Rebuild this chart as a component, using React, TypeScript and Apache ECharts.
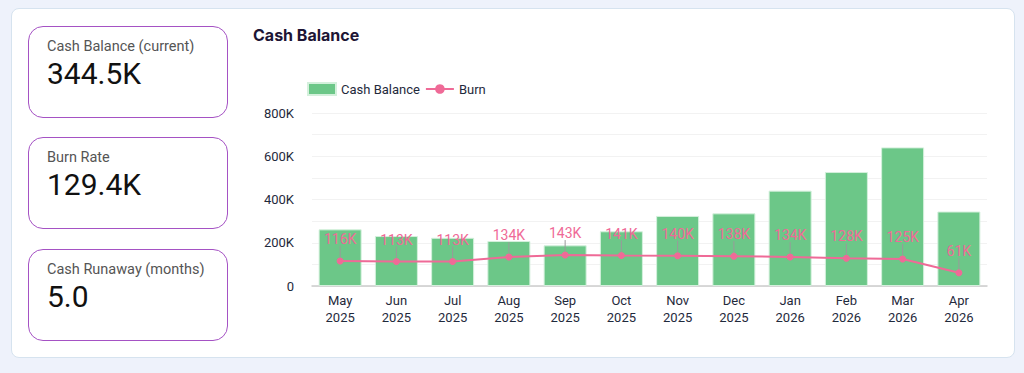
import React, { useEffect, useRef } from "react";
import * as echarts from "echarts";

const months = ["May\n2025", "Jun\n2025", "Jul\n2025", "Aug\n2025", "Sep\n2025", "Oct\n2025", "Nov\n2025", "Dec\n2025", "Jan\n2026", "Feb\n2026", "Mar\n2026", "Apr\n2026"];
const cashBalance = [262000, 231000, 223000, 208000, 188000, 253000, 324000, 336000, 441000, 527000, 641000, 344500];
const burn = [116000, 113000, 113000, 134000, 143000, 141000, 140000, 138000, 134000, 128000, 125000, 61000];
const kpis = [
  { label: "Cash Balance (current)", value: "344.5K" },
  { label: "Burn Rate", value: "129.4K" },
  { label: "Cash Runaway (months)", value: "5.0" },
];

const fmtK = (v: number) => (v === 0 ? "0" : Math.round(v / 1000) + "K");

export default function App() {
  const ref = useRef<HTMLDivElement>(null);
  useEffect(() => {
    if (!ref.current) return;
    const chart = echarts.init(ref.current, undefined, { renderer: "svg" });
    chart.setOption({
      animation: false,
      textStyle: { fontFamily: "Roboto" },
      title: {
        text: "Cash Balance",
        left: 248,
        top: 22,
        textStyle: { fontFamily: "Inter", fontSize: 16, fontWeight: 700, color: "#1e1535" },
      },
      legend: {
        left: 302,
        top: 77,
        itemWidth: 28,
        itemHeight: 12,
        itemGap: 5,
        textStyle: { fontSize: 13, color: "#1f2a3c", fontFamily: "Roboto" },
        data: [
          { name: "Cash Balance", icon: "rect" },
          { name: "Burn" },
        ],
      },
      grid: { left: 312, right: 37, top: 113, bottom: 87 },
      xAxis: {
        type: "category",
        data: months,
        axisTick: { show: false },
        axisLine: { lineStyle: { color: "#cccccc", width: 1.5 } },
        axisLabel: { fontSize: 13, color: "#1f2a3c", lineHeight: 17, margin: 6, interval: 0 },
      },
      yAxis: {
        type: "value",
        min: 0,
        max: 800000,
        interval: 200000,
        axisLabel: { formatter: fmtK, fontSize: 13, color: "#1f2a3c", margin: 18 },
        splitLine: { lineStyle: { color: "#f2f2f2" } },
        minorTick: { show: false, splitNumber: 2 },
        minorSplitLine: { show: true, lineStyle: { color: "#f2f2f2" } },
      },
      series: [
        {
          name: "Cash Balance",
          type: "bar",
          z: 1,
          data: cashBalance,
          barWidth: 43,
          itemStyle: { color: "#6cc788", borderColor: "#d4f0dc", borderWidth: 1 },
        },
        {
          name: "Burn",
          type: "line",
          z: 10,
          zlevel: 0,
          data: burn,
          symbol: "circle",
          symbolSize: 7,
          lineStyle: { color: "#ef6a97", width: 2 },
          itemStyle: { color: "#ef6a97" },
          label: {
            show: true,
            position: "inside",
            formatter: (p: any) => fmtK(p.value),
            fontSize: 14,
            color: "#ef6a97",
          },
          labelLayout: { dy: -22 },
          labelLine: { show: true, lineStyle: { color: "#9a9a9a", width: 1 } },
        },
      ],
    });
    return () => chart.dispose();
  }, []);

  return (
    <div style={{ position: "fixed", left: 0, top: 0, width: 1024, height: 373, background: "#eef2fb", overflow: "hidden" }}>
      <div
        style={{
          position: "absolute",
          left: 11,
          top: 8,
          width: 1004,
          height: 350,
          background: "#ffffff",
          border: "1px solid #d6e3ef",
          borderRadius: 8,
          boxSizing: "border-box",
        }}
      />
      <div ref={ref} style={{ position: "absolute", left: 0, top: 0, width: 1024, height: 373 }} />
      {kpis.map((k, i) => (
        <div
          key={k.label}
          style={{
            position: "absolute",
            left: 28,
            top: [26, 137, 249][i],
            width: 200,
            height: 92,
            border: "1px solid #a552c4",
            borderRadius: 15,
            boxSizing: "border-box",
            background: "#ffffff",
            fontFamily: "Roboto",
          }}
        >
          <div style={{ position: "absolute", left: 18, top: 11, fontSize: 14.5, color: "#555555", whiteSpace: "nowrap" }}>{k.label}</div>
          <div style={{ position: "absolute", left: 18, top: 29, fontSize: 30, color: "#111111", whiteSpace: "nowrap" }}>{k.value}</div>
        </div>
      ))}
    </div>
  );
}
